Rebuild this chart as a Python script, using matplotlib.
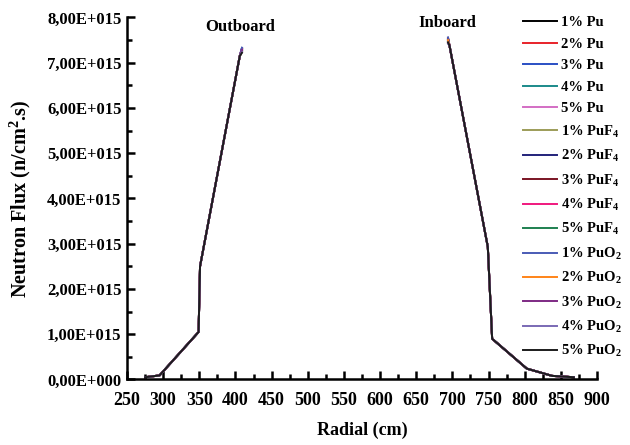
import numpy as np
import matplotlib
matplotlib.use("Agg")
import matplotlib.pyplot as plt
from matplotlib.ticker import FuncFormatter, MultipleLocator

plt.rcParams["font.family"] = ["Liberation Serif", "DejaVu Serif"]
plt.rcParams["font.weight"] = "bold"
plt.rcParams["mathtext.fontset"] = "custom"
plt.rcParams["mathtext.rm"] = "Liberation Serif:bold"
plt.rcParams["mathtext.bf"] = "Liberation Serif:bold"
plt.rcParams["mathtext.it"] = "Liberation Serif:bold"
plt.rcParams["mathtext.default"] = "bf"

# series labels and colours (legend order)
labels = ["1% Pu", "2% Pu", "3% Pu", "4% Pu", "5% Pu",
          "1% PuF$_4$", "2% PuF$_4$", "3% PuF$_4$", "4% PuF$_4$", "5% PuF$_4$",
          "1% PuO$_2$", "2% PuO$_2$", "3% PuO$_2$", "4% PuO$_2$", "5% PuO$_2$"]
colors = ["#000000", "#e8222a", "#2a4fc4", "#1b8a8a", "#d36ec4",
          "#9c9c58", "#23237a", "#7a1424", "#f0187e", "#1e8050",
          "#4a5bb5", "#ff8418", "#7e2a84", "#7a69b4", "#1c1c1c"]

# outboard profile (radial cm, flux in 1e15 n/cm2.s); last point is the peak
radial_out = [275, 295, 349, 351, 406, 409]
flux_out = [0.05, 0.09, 1.05, 2.50, 7.15]
peak_out = [7.30, 7.31, 7.33, 7.32, 7.29, 7.28, 7.27, 7.30, 7.31, 7.26,
            7.33, 7.25, 7.28, 7.24, 7.22]

# inboard profile; first point is the peak
radial_in = [694, 696, 749, 755, 803, 838, 868]
flux_in = [7.38, 2.93, 0.90, 0.24, 0.08, 0.05]
peak_in = [7.52, 7.54, 7.50, 7.49, 7.53, 7.47, 7.51, 7.55, 7.48, 7.46,
           7.56, 7.50, 7.44, 7.42, 7.45]

fig = plt.figure(figsize=(6.3, 4.45), dpi=100)
ax = fig.add_axes([0.2016, 0.1472, 0.746, 0.8135])

for i in range(len(labels)):
    x = radial_out + [np.nan] + radial_in
    y = flux_out + [peak_out[i]] + [np.nan] + [peak_in[i]] + flux_in
    ax.plot(x, np.array(y) * 1e15, color=colors[i], lw=1.4, label=labels[i])

ax.set_xlim(250, 900)
ax.set_ylim(0, 8e15)
ax.xaxis.set_major_locator(MultipleLocator(50))
ax.xaxis.set_minor_locator(MultipleLocator(25))
ax.yaxis.set_major_locator(MultipleLocator(1e15))
ax.yaxis.set_minor_locator(MultipleLocator(0.5e15))


def fmt(v, pos):
    if abs(v) < 1:
        return "0,00E+000"
    return ("%.2f" % (v / 1e15)).replace(".", ",") + "E+015"


ax.yaxis.set_major_formatter(FuncFormatter(fmt))

for s in ["top", "right"]:
    ax.spines[s].set_visible(False)
for s in ["left", "bottom"]:
    ax.spines[s].set_linewidth(1.8)

ax.tick_params(which="major", direction="in", length=6, width=1.8)
ax.tick_params(which="minor", direction="in", length=3.5, width=1.8)
ax.tick_params(axis="x", which="major", pad=9, labelsize=13)
ax.tick_params(axis="y", which="major", pad=4, labelsize=12)

ax.set_xlabel("Radial (cm)", fontsize=13, fontweight="bold", labelpad=9)
ax.set_ylabel("Neutron Flux (n/cm$^2$.s)", fontsize=14.5, fontweight="bold", labelpad=10)

fig.text(240 / 630, 1 - 27 / 445, "Outboard", fontsize=12, fontweight="bold",
         ha="center", va="center")
fig.text(447 / 630, 1 - 23 / 445, "Inboard", fontsize=12, fontweight="bold",
         ha="center", va="center")

leg = ax.legend(loc="upper left", bbox_to_anchor=(523 / 630, 1 - 16 / 445),
                bbox_transform=fig.transFigure, frameon=False, fontsize=10.5,
                handlelength=2.3, handletextpad=0.3, labelspacing=0.57,
                borderpad=0, borderaxespad=0)

fig.savefig("out.png", dpi=100)
